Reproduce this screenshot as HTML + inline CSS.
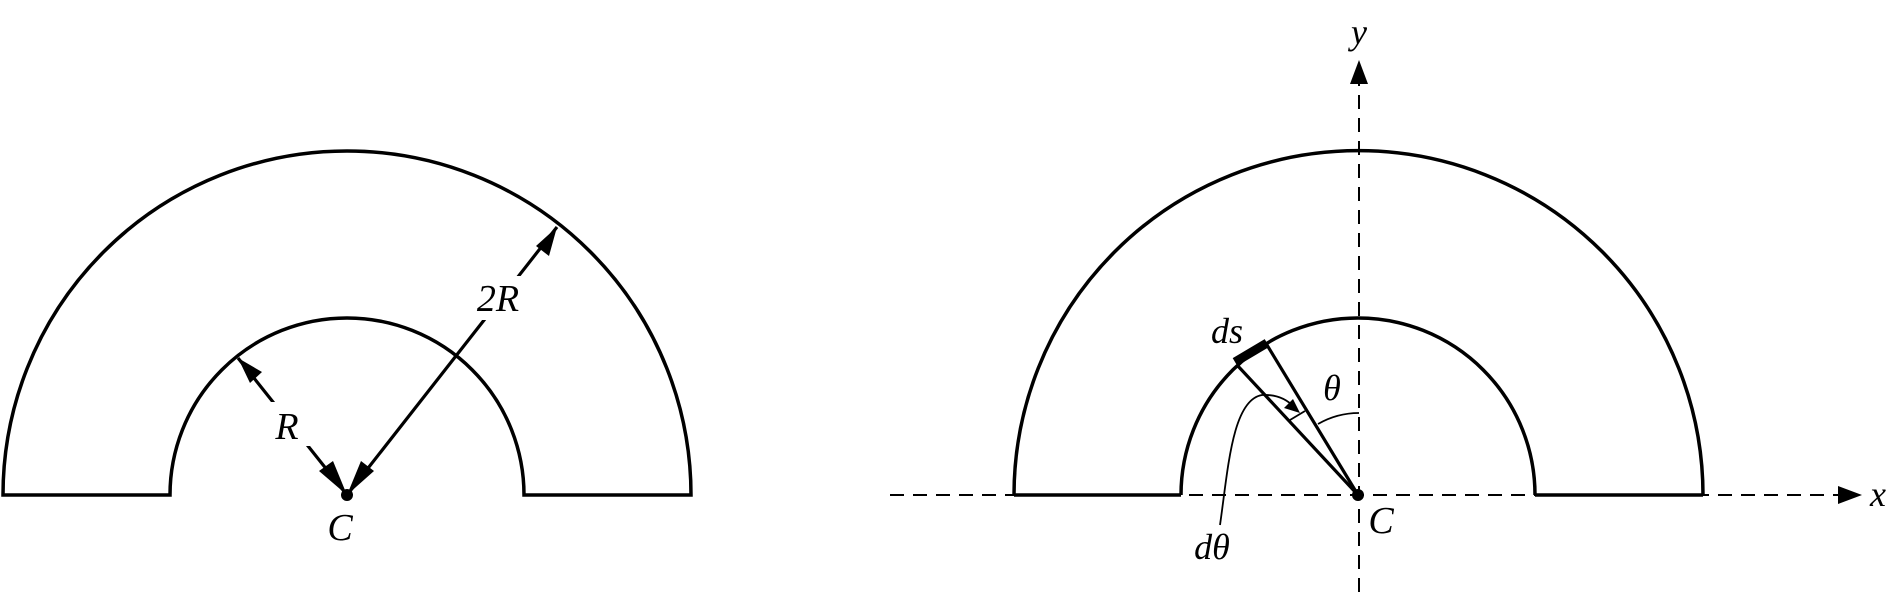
<!DOCTYPE html>
<html><head><meta charset="utf-8"><style>
html,body{margin:0;padding:0;background:#fff;}
svg{display:block;}
text{font-family:"Liberation Serif",serif;font-style:italic;fill:#000;}
</style></head><body>
<svg width="1893" height="599" viewBox="0 0 1893 599">
<!-- Left figure -->
<g>
<path d="M3,495 A344,344 0 0 1 691,495 L524,495 A177,177 0 0 0 170,495 Z" fill="none" stroke="#000" stroke-width="3.5"/>
<line x1="347" y1="495" x2="238" y2="358" stroke="#000" stroke-width="3.2"/>
<line x1="347" y1="495" x2="557" y2="227" stroke="#000" stroke-width="3.2"/>
<rect x="266" y="402" width="44" height="44" fill="#fff"/>
<rect x="470" y="276" width="58" height="44" fill="#fff"/>
<polygon fill="#000" points="238,358 262,372 250,383"/>
<polygon fill="#000" points="347,495 319,471 333,461"/>
<polygon fill="#000" points="347,495 361,461 374,471"/>
<polygon fill="#000" points="557,227 549,256 536,246"/>
<circle cx="347" cy="495" r="6" fill="#000"/>
<text x="287" y="439" font-size="38" text-anchor="middle">R</text>
<text x="498" y="311" font-size="38" text-anchor="middle">2R</text>
<text x="340" y="540" font-size="38" text-anchor="middle">C</text>
</g>
<!-- Right figure -->
<g>
<line x1="890" y1="495" x2="1845" y2="495" stroke="#000" stroke-width="2" stroke-dasharray="14,9"/>
<polygon fill="#000" points="1862,495 1838,486 1838,504"/>
<line x1="1359" y1="592" x2="1359" y2="80" stroke="#000" stroke-width="2" stroke-dasharray="14,9"/>
<polygon fill="#000" points="1359,60 1350,84 1368,84"/>
<path d="M1014,495 A344.5,344.5 0 0 1 1703,495 M1535,495 A177,177 0 0 0 1181,495" fill="none" stroke="#000" stroke-width="3.5"/>
<line x1="1014" y1="495" x2="1181" y2="495" stroke="#000" stroke-width="3.5"/>
<line x1="1535" y1="495" x2="1703" y2="495" stroke="#000" stroke-width="3.5"/>
<line x1="1235" y1="362" x2="1267" y2="343" stroke="#000" stroke-width="9"/>
<line x1="1358" y1="495" x2="1267" y2="345" stroke="#000" stroke-width="3.2"/>
<line x1="1358" y1="495" x2="1237" y2="365" stroke="#000" stroke-width="3.2"/>
<path d="M1359,413 A82,82 0 0 0 1318,424" fill="none" stroke="#000" stroke-width="1.8"/>
<line x1="1290" y1="420" x2="1305" y2="411" stroke="#000" stroke-width="1.8"/>
<path d="M1220,525 C1228,470 1232,400 1262,395 Q1282,394 1294,407" fill="none" stroke="#000" stroke-width="1.8"/>
<polygon fill="#000" points="1300,413 1284,408 1293,399"/>
<circle cx="1358" cy="495" r="6" fill="#000"/>
<text x="1227" y="343" font-size="36" text-anchor="middle">ds</text>
<text x="1332" y="400" font-size="36" text-anchor="middle">θ</text>
<text x="1212" y="559" font-size="36" text-anchor="middle">dθ</text>
<text x="1381" y="533" font-size="38" text-anchor="middle">C</text>
<text x="1359" y="44" font-size="36" text-anchor="middle">y</text>
<text x="1878" y="506" font-size="36" text-anchor="middle">x</text>
</g>
</svg>
</body></html>
